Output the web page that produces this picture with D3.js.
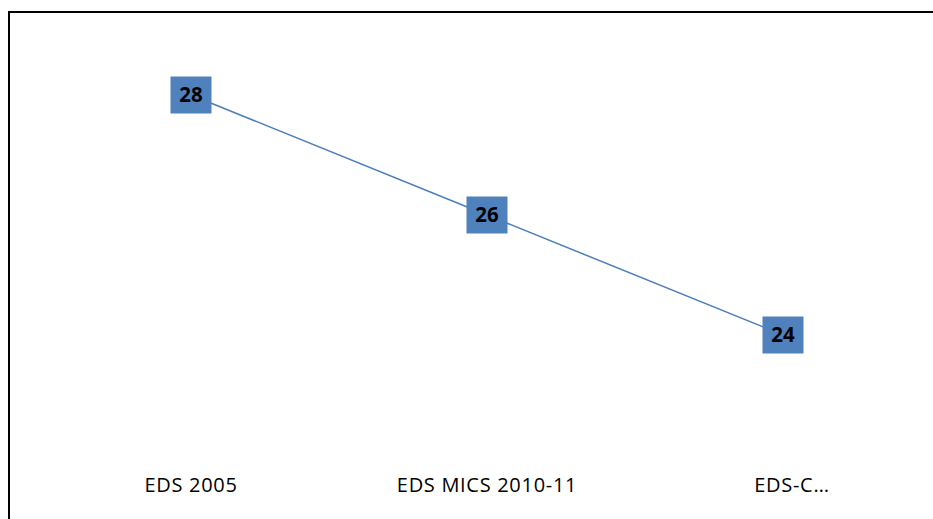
<!DOCTYPE html>
<html>
<head>
<meta charset="utf-8">
<script src="https://cdn.jsdelivr.net/npm/d3@7"></script>
<style>
  body { margin: 0; background: #fff; }
  svg { display: block; }
</style>
</head>
<body>
<div id="chart"></div>
<script>
// surveys and the values
const categories = ['EDS 2005', 'EDS MICS 2010-11', 'EDS-C…'];
const values = [28, 26, 24];
const yDomain = [22, 29];

const W = 933;
const H = 519;

const svg = d3.select('#chart')
  .append('svg')
  .attr('width', W)
  .attr('height', H);

// chart frame (only top and left edges fall inside the picture)
svg.append('rect')
  .attr('x', 9)
  .attr('y', 12)
  .attr('width', W + 20)
  .attr('height', H + 20)
  .attr('fill', 'none')
  .attr('stroke', '#000')
  .attr('stroke-width', 2);

const x = d3.scalePoint()
  .domain(categories)
  .range([191, 783]);

const y = d3.scaleLinear()
  .domain(yDomain)
  .range([455, 35]);

const data = categories.map((c, i) => ({ cat: c, value: values[i] }));

const line = d3.line()
  .x(d => x(d.cat))
  .y(d => y(d.value));

svg.append('path')
  .datum(data)
  .attr('d', line)
  .attr('fill', 'none')
  .attr('stroke', '#4a7ebb')
  .attr('stroke-width', 1.5);

// value boxes
const lab = svg.append('g')
  .selectAll('g')
  .data(data)
  .enter()
  .append('g')
  .attr('transform', d => `translate(${x(d.cat)},${y(d.value)})`);

lab.append('rect')
  .attr('x', -20.5)
  .attr('y', -18.5)
  .attr('width', 41)
  .attr('height', 37)
  .attr('fill', '#4f81bd');

lab.append('text')
  .attr('text-anchor', 'middle')
  .attr('dy', '0.36em')
  .attr('font-family', '"Open Sans", sans-serif')
  .attr('font-weight', 'bold')
  .attr('font-size', 20.5)
  .attr('fill', '#000')
  .text(d => d.value);

// category labels
svg.append('g')
  .selectAll('text')
  .data(categories)
  .enter()
  .append('text')
  .attr('x', (d, i) => x(d) + (i === categories.length - 1 ? 9 : 0))
  .attr('y', 492)
  .attr('text-anchor', 'middle')
  .attr('font-family', '"Open Sans", sans-serif')
  .attr('font-size', 20)
  .attr('letter-spacing', 0.7)
  .attr('fill', '#000')
  .text(d => d);
</script>
</body>
</html>
